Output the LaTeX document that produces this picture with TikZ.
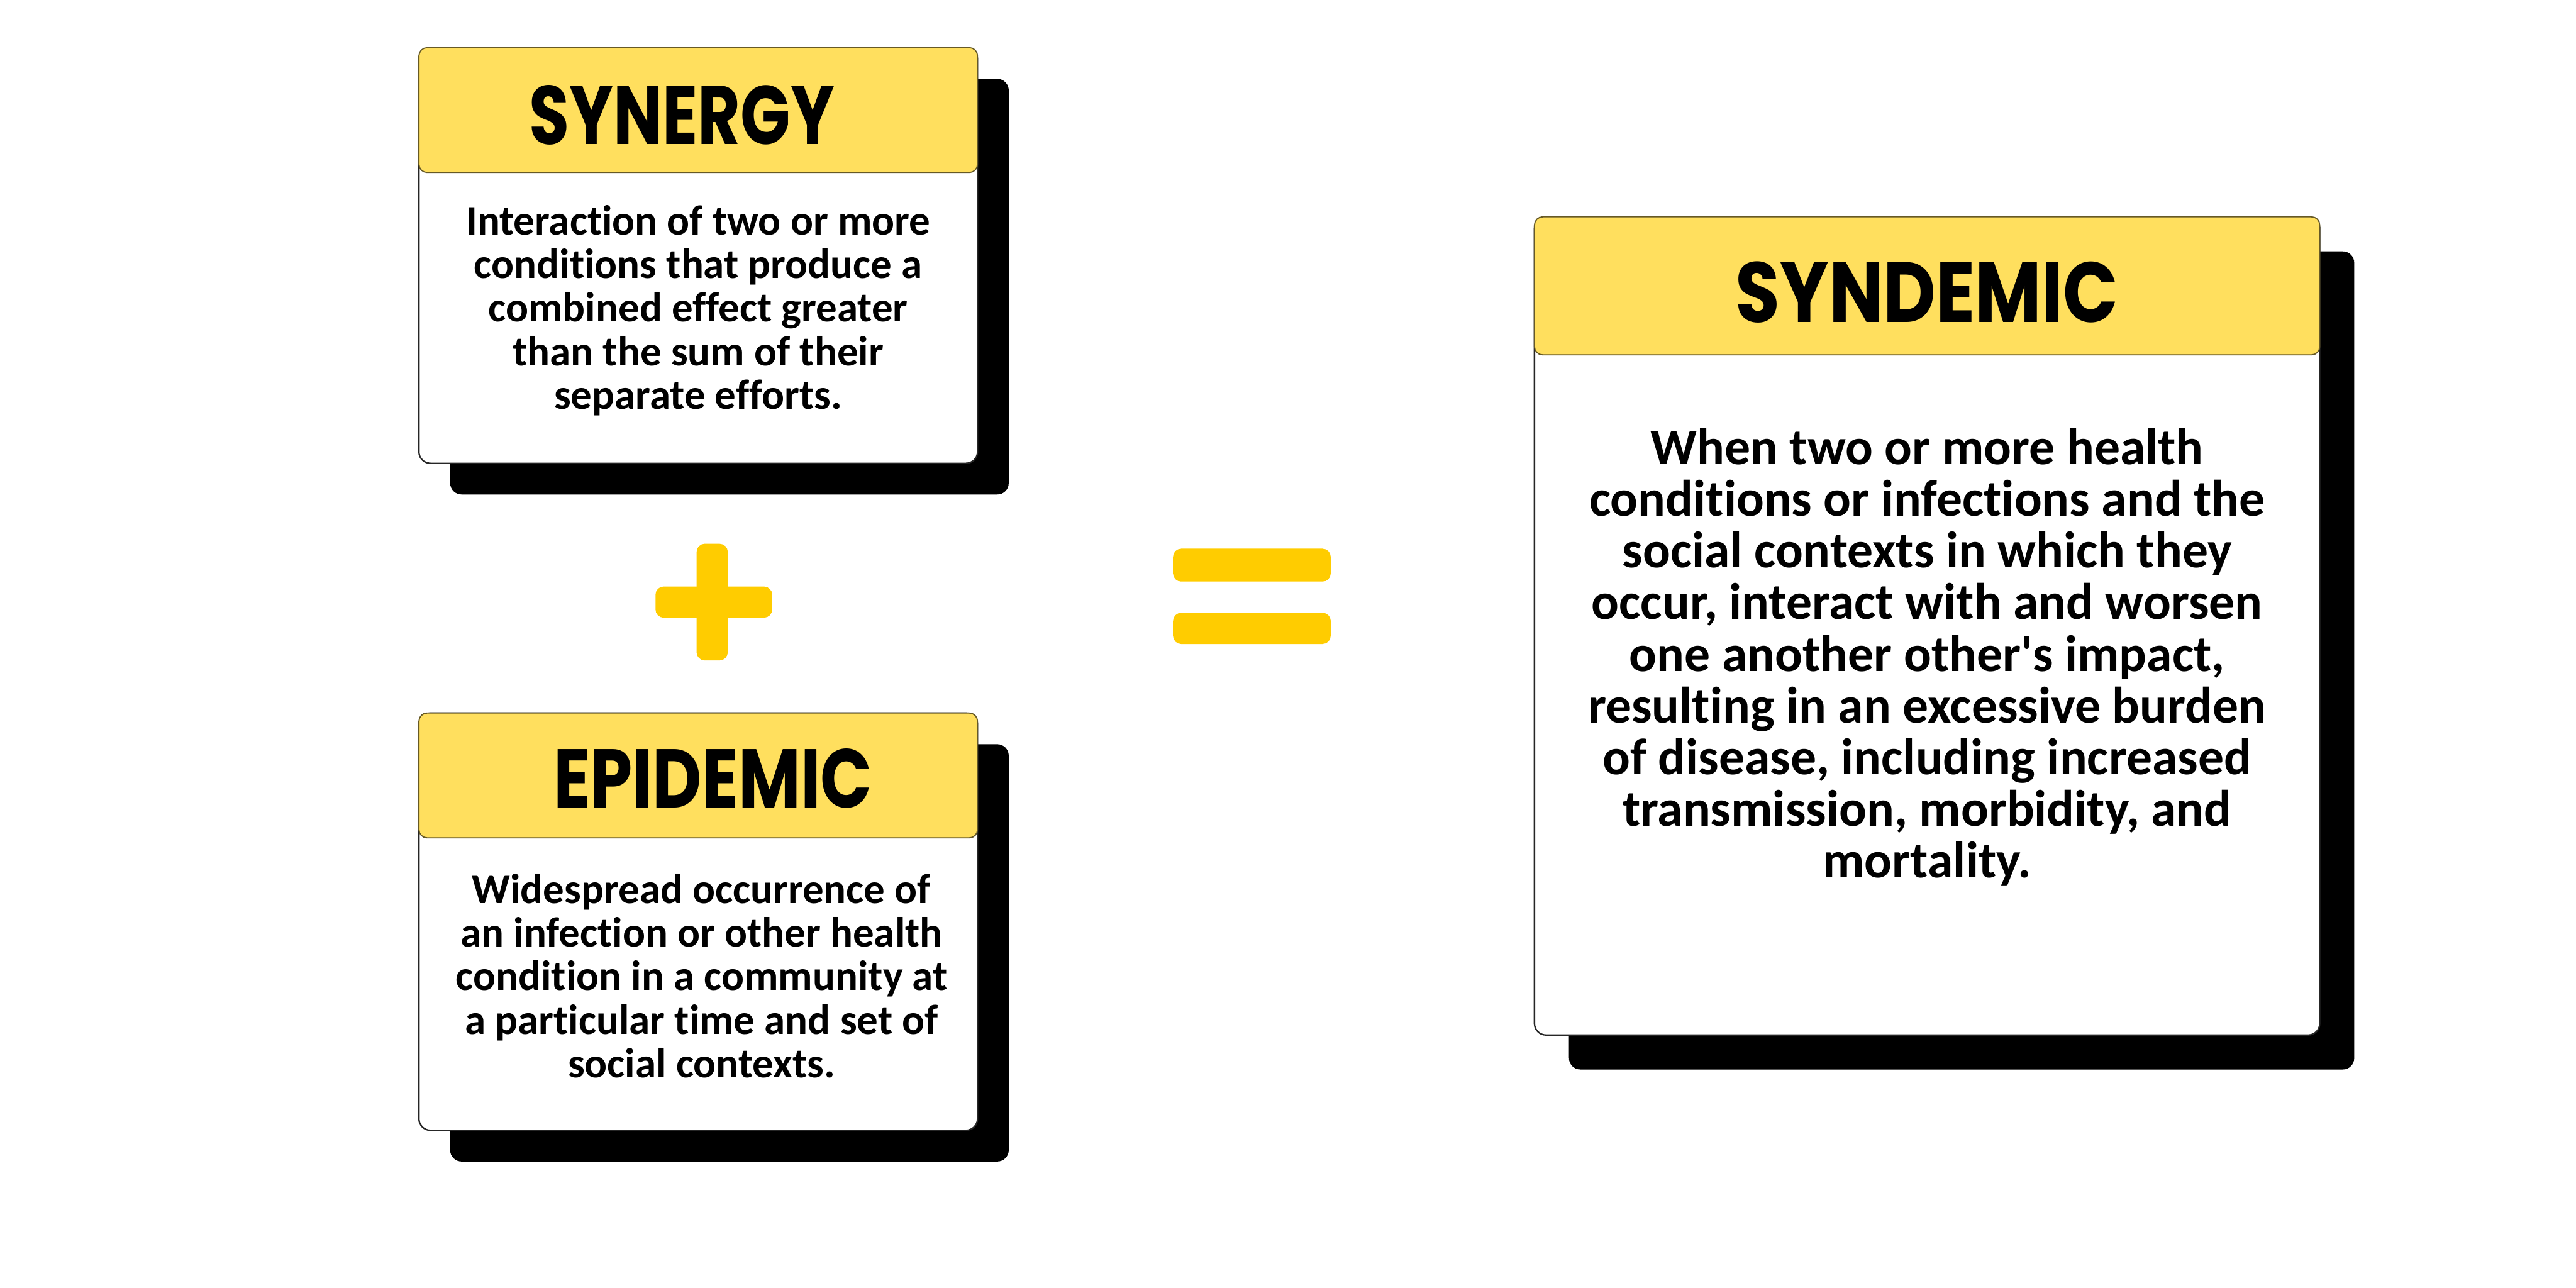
\documentclass[tikz,border=0pt]{standalone}
\usepackage{fontspec}
\setmainfont{Carlito}[Ligatures={NoCommon}]
\newfontfamily\titlefont{Poppins}
\usetikzlibrary{positioning}
\definecolor{headyellow}{HTML}{FFDF5E}
\definecolor{signyellow}{HTML}{FFCC00}
\tikzset{
  shadowbox/.style={fill=black,rounded corners=0.14cm},
  cardbox/.style={draw=black!85,fill=white,line width=0.5pt,rounded corners=0.14cm},
  headbox/.style={draw=black!60!headyellow,fill=headyellow,line width=0.4pt,rounded corners=0.1cm},
  signbar/.style={fill=signyellow,rounded corners=0.1cm},
  cardtitle/.style={font=\titlefont\bfseries\fontsize{29}{32}\selectfont,inner sep=0},
  cardtext/.style={font=\bfseries\fontsize{14.6}{15.1}\selectfont,align=center,inner sep=0},
  bigtext/.style={font=\bfseries\fontsize{17.8}{17.9}\selectfont,align=center,inner sep=0},
}
\newcommand{\card}[7]{% name, left, top, right, bottom, header bottom, shadow offset
  \fill[shadowbox] (#2+#7,#3+#7) rectangle (#4+#7,#5+#7);
  \draw[cardbox] (#2,#3) rectangle (#4,#5);
  \draw[headbox] (#2,#3) rectangle (#4,#6);
  \coordinate (#1-head) at ({(#2+#4)/2},{(#3+#6)/2});
  \coordinate (#1-body) at ({(#2+#4)/2},{(#6+#5)/2});}
\newcommand{\titleword}[3]{\resizebox{#1}{#2}{#3}}% width, cap height, word

\begin{document}
\begin{tikzpicture}[x=0.02cm,y=-0.02cm]
  \useasboundingbox (0,0) rectangle (1568,784);
  % left cards
  \card{synergy}{255}{29}{595}{282}{105}{19}
  \node[cardtitle] (synergytitle) at (415,70) {\titleword{3.72cm}{0.72cm}{SYNERGY}};
  \node[cardtext] (synergytext) at (425,189) {Interaction of two or more\\
    conditions that produce a\\ combined effect greater\\ than the sum of their\\
    separate efforts.};
  \card{epidemic}{255}{434}{595}{688}{510}{19}
  \node[cardtitle] (epidemictitle) at (434,474) {\titleword{3.88cm}{0.72cm}{EPIDEMIC}};
  \node[cardtext] (epidemictext) at (427,594) {Widespread occurrence of\\
    an infection or other health\\ condition in a community at\\
    a particular time and set of\\ social contexts.};
  % right card
  \card{syndemic}{934}{132}{1412}{630}{216}{21}
  \node[cardtitle] (syndemictitle) at (1173,178) {\titleword{4.66cm}{0.74cm}{SYNDEMIC}};
  \node[bigtext] (syndemictext) at (1173,400) {When two or more health\\
    conditions or infections and the\\ social contexts in which they\\
    occur, interact with and worsen\\ one another other\textquotesingle s impact,\\
    resulting in an excessive burden\\ of disease, including increased\\
    transmission, morbidity, and\\ mortality.};
  % plus and equals
  \fill[signbar] (424,331) rectangle (443,402);
  \fill[signbar] (399,357) rectangle (470,376);
  \fill[signbar] (714,334) rectangle (810,354);
  \fill[signbar] (714,373) rectangle (810,392);
\end{tikzpicture}
\end{document}
